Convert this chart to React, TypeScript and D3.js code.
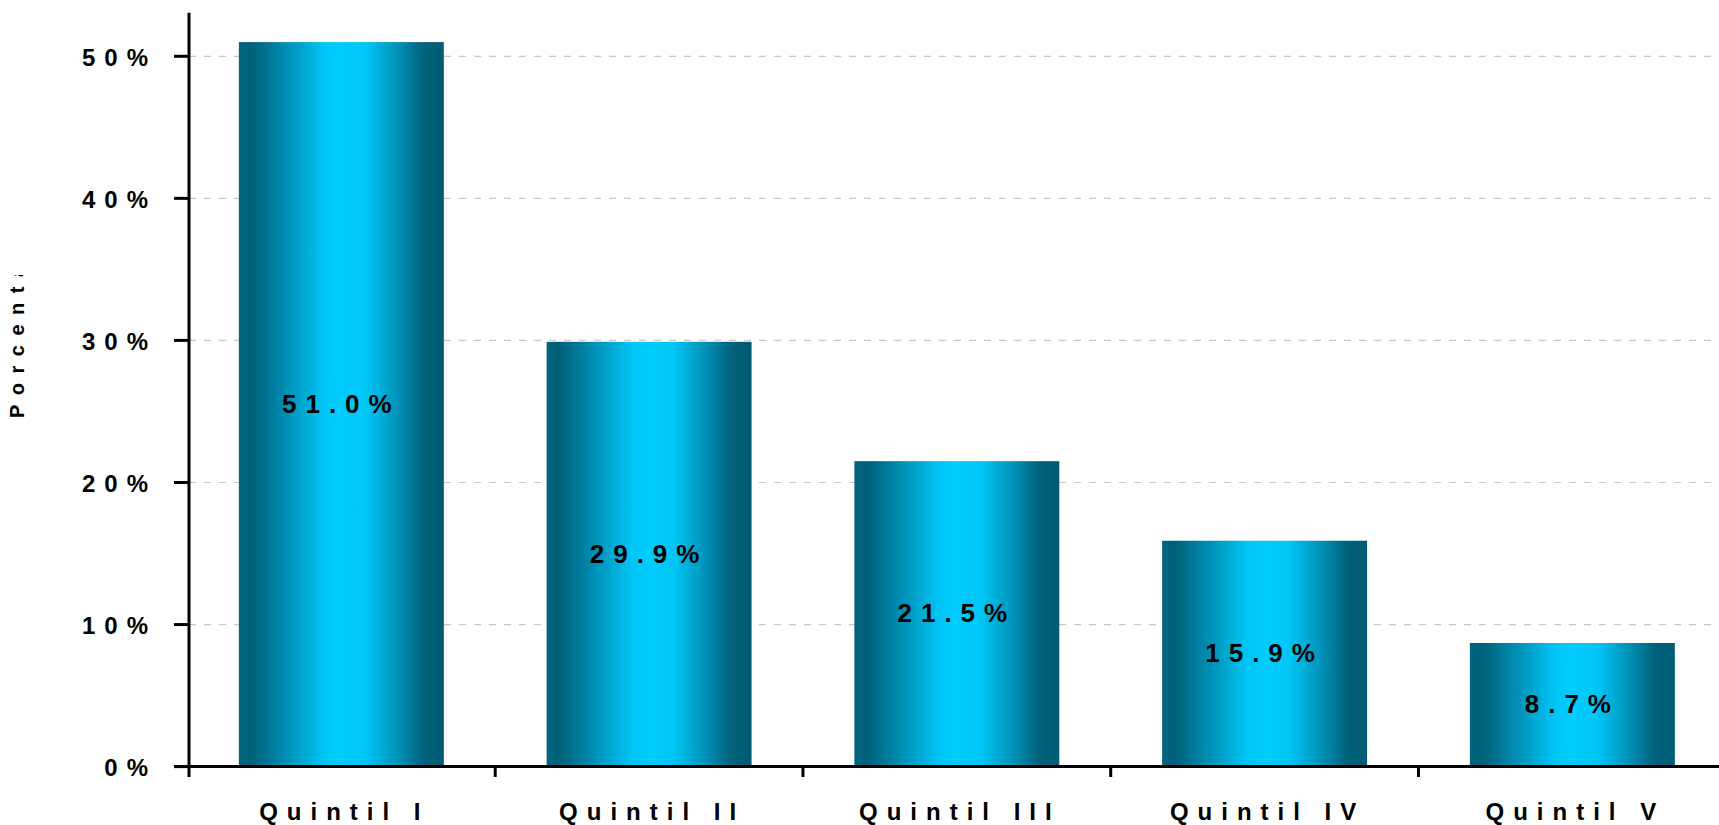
import React from "react";
import * as d3 from "d3";

const categories = ["Quintil I", "Quintil II", "Quintil III", "Quintil IV", "Quintil V"];
const values = [0.51, 0.299, 0.215, 0.159, 0.087];
const yTicks = [0, 0.1, 0.2, 0.3, 0.4, 0.5];
const yTitle = "Porcentaje";

const W = 1719;
const H = 825;
const FONT = "'Liberation Sans', Arial, Helvetica, sans-serif";

export default function App() {
  const axisX = 189;
  const step = 307.75;
  const pIn = 0.334;
  const pOut = 0.162;
  const x = d3
    .scaleBand<string>()
    .domain(categories)
    .range([axisX, axisX + step * (categories.length - pIn + 2 * pOut)])
    .paddingInner(pIn)
    .paddingOuter(pOut);
  const y = d3.scaleLinear().domain([0, 0.5]).range([766.6, 56.3]);
  const bw = x.bandwidth();
  const gap = (x.step() - bw) / 2;
  const fmtTick = d3.format(".0%");
  const fmtVal = d3.format(".1%");

  return (
    <svg
      width={W}
      height={H}
      style={{ position: "absolute", left: 0, top: 0, background: "#fff" }}
      fontFamily={FONT}
    >
      <defs>
        <linearGradient id="barGrad" x1="0" x2="1" y1="0" y2="0">
          <stop offset="0" stopColor="#00657f" />
          <stop offset="0.06" stopColor="#005f78" />
          <stop offset="0.24" stopColor="#0092b8" />
          <stop offset="0.42" stopColor="#00c6f6" />
          <stop offset="0.5" stopColor="#00ccff" />
          <stop offset="0.62" stopColor="#00c6f6" />
          <stop offset="0.78" stopColor="#0090b5" />
          <stop offset="0.9" stopColor="#00627b" />
          <stop offset="1" stopColor="#005a72" />
        </linearGradient>
        <clipPath id="titleClip">
          <rect x={0} y={275} width={60} height={300} />
        </clipPath>
      </defs>

      {/* gridlines */}
      {yTicks
        .filter((t) => t > 0)
        .map((t) => (
          <line
            key={"g" + t}
            x1={axisX}
            x2={W}
            y1={y(t)}
            y2={y(t)}
            stroke="#c8c8c8"
            strokeWidth={1.2}
            strokeDasharray="7,8"
          />
        ))}

      {/* bars */}
      {categories.map((c, i) => (
        <rect
          key={c}
          x={x(c)}
          y={y(values[i])}
          width={bw}
          height={y(0) - y(values[i])}
          fill="url(#barGrad)"
        />
      ))}

      {/* value labels */}
      {categories.map((c, i) => (
        <text
          key={"v" + c}
          x={(x(c) as number) + bw / 2}
          y={(y(values[i]) + y(0)) / 2 + 8.5}
          textAnchor="middle"
          fontSize={26}
          fontWeight="bold"
          letterSpacing={9}
          fill="#000"
        >
          {fmtVal(values[i])}
        </text>
      ))}

      {/* y axis */}
      <line x1={axisX} x2={axisX} y1={12.7} y2={777} stroke="#000" strokeWidth={3} />
      {yTicks.map((t) => (
        <g key={"t" + t}>
          <line x1={174} x2={axisX} y1={y(t)} y2={y(t)} stroke="#000" strokeWidth={3} />
          <text
            x={157}
            y={y(t) + 9.5}
            textAnchor="end"
            fontSize={24}
            fontWeight="bold"
            letterSpacing={9}
            fill="#000"
          >
            {fmtTick(t)}
          </text>
        </g>
      ))}

      {/* x axis */}
      <line x1={174} x2={W} y1={y(0)} y2={y(0)} stroke="#000" strokeWidth={3} />
      {categories.map((c, i) =>
        i === 0 ? null : (
          <line
            key={"xt" + c}
            x1={(x(c) as number) - gap}
            x2={(x(c) as number) - gap}
            y1={y(0)}
            y2={777}
            stroke="#000"
            strokeWidth={3}
          />
        )
      )}
      {categories.map((c) => (
        <text
          key={"xl" + c}
          x={(x(c) as number) + bw / 2 + 3}
          y={820}
          textAnchor="middle"
          fontSize={24}
          fontWeight="bold"
          letterSpacing={9}
          fill="#000"
        >
          {c}
        </text>
      ))}

      {/* y title (clipped as in original) */}
      <g clipPath="url(#titleClip)">
        <text
          transform="translate(23.5,418) rotate(-90)"
          fontSize={20}
          fontWeight="bold"
          letterSpacing={9.5}
          fill="#000"
        >
          {yTitle}
        </text>
      </g>
    </svg>
  );
}
